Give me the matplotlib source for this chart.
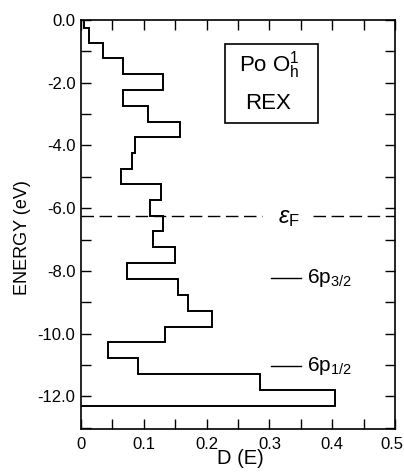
import matplotlib
matplotlib.use("Agg")
import matplotlib.pyplot as plt
from matplotlib.patches import Rectangle
from matplotlib.ticker import MultipleLocator, FixedLocator
import matplotlib.transforms as mtransforms

plt.rcParams['font.family'] = ['Liberation Sans', 'DejaVu Sans']
plt.rcParams['mathtext.fontset'] = 'custom'
plt.rcParams['mathtext.rm'] = 'Liberation Sans'
plt.rcParams['mathtext.it'] = 'Liberation Sans:italic'

# Energy bin edges (eV) and density of states D(E)
energy_edges = [0.0, -0.25, -0.73, -1.22, -1.73, -2.23, -2.73, -3.25, -3.72, -4.23,
                -4.75, -5.22, -5.73, -6.24, -6.74, -7.24, -7.75, -8.26, -8.78, -9.27,
                -9.79, -10.28, -10.78, -11.29, -11.80, -12.32]
dos_values = [0.004, 0.012, 0.035, 0.067, 0.131, 0.067, 0.106, 0.158, 0.086, 0.081,
              0.064, 0.128, 0.110, 0.130, 0.115, 0.150, 0.073, 0.154, 0.171, 0.209,
              0.133, 0.0425, 0.090, 0.285, 0.405]

fermi_energy = -6.26
level_energies = [-8.23, -11.04]
level_labels = [r'6p$_{3/2}$', r'6p$_{1/2}$']

x_ticks = [0, 0.1, 0.2, 0.3, 0.4, 0.5]
x_ticklabels = ['0', '0.1', '0.2', '0.3', '0.4', '0.5']
y_ticks = [0.0, -2.0, -4.0, -6.0, -8.0, -10.0, -12.0]
y_ticklabels = ['0.0', '-2.0', '-4.0', '-6.0', '-8.0', '-10.0', '-12.0']

fig = plt.figure(figsize=(4.04, 4.75), dpi=100)
ax = fig.add_axes([81/404, 1-429/475, 314/404, 409/475])

edges_asc = energy_edges[::-1]
vals_asc = dos_values[::-1]
ax.stairs(vals_asc, edges_asc, orientation='horizontal', baseline=0,
          color='black', lw=1.4)

# Fermi level dashed line (broken around label)
for x0, x1 in [(0.0, 0.288), (0.369, 0.5)]:
    ln, = ax.plot([x0, x1], [fermi_energy, fermi_energy], color='black', lw=1.0)
    ln.set_dashes([9, 4])
ax.text(0.331, fermi_energy - 0.05, r'$\varepsilon_{\rm F}$', fontsize=17,
        ha='center', va='center')

# atomic levels
for e, lab in zip(level_energies, level_labels):
    ax.plot([0.302, 0.350], [e, e], color='black', lw=1.0)
    ax.text(0.360, e, lab, fontsize=15, ha='left', va='center')

# label box
ax.add_patch(Rectangle((0.229, -3.27), 0.148, 2.50, fill=False,
                       edgecolor='black', lw=1.2))
ax.text(0.300, -1.45, r'Po O$_{\rm h}^{1}$', fontsize=16, ha='center', va='center')
ax.text(0.298, -2.65, 'REX', fontsize=16, ha='center', va='center')

ax.set_xlim(0, 0.5)
ax.set_ylim(-13.04, 0)
ax.xaxis.set_major_locator(FixedLocator(x_ticks))
ax.set_xticklabels(x_ticklabels)
ax.xaxis.set_minor_locator(MultipleLocator(0.05))
ax.yaxis.set_major_locator(FixedLocator(y_ticks))
ax.set_yticklabels(y_ticklabels)
ax.yaxis.set_minor_locator(MultipleLocator(1.0))
ax.tick_params(which='both', direction='in', top=True, right=True,
               length=7, width=1.0, labelsize=12)
ax.tick_params(axis='y', pad=4)
ax.tick_params(axis='x', pad=6)
for s in ax.spines.values():
    s.set_linewidth(1.2)

# keep last x tick label inside the figure
last = ax.get_xticklabels()[-1]
last.set_transform(last.get_transform() +
                   mtransforms.ScaledTranslation(-3/100, 0, fig.dpi_scale_trans))

ax.set_ylabel('ENERGY (eV)', fontsize=13)
ax.yaxis.set_label_coords(-0.185, 0.467)
ax.set_xlabel('D (E)', fontsize=14.5)
ax.xaxis.set_label_coords(0.506, -0.072)
ax.xaxis.label.set_va('center')
ax.yaxis.label.set_va('center')

fig.savefig('out.png', dpi=100)
